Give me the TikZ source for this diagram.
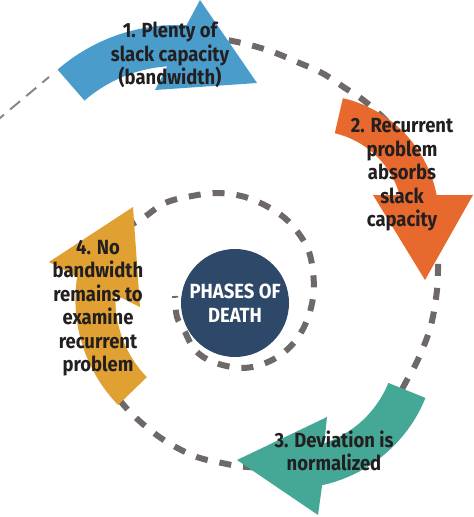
\documentclass[tikz,border=0pt]{standalone}
\usepackage{fontspec}
\setmainfont{Fira Sans}[FakeStretch=0.9]
\usetikzlibrary{calc}
\definecolor{cblue}{HTML}{4A9CCB}
\definecolor{corange}{HTML}{E8692D}
\definecolor{cteal}{HTML}{45A896}
\definecolor{cgold}{HTML}{E1A032}
\definecolor{cnavy}{HTML}{2D4868}
\definecolor{cgray}{HTML}{6E6868}
\definecolor{cthin}{HTML}{8A8586}
\definecolor{ctext}{HTML}{231F20}
\begin{document}
\begin{tikzpicture}[x=1pt,y=1pt,
  lbl/.style={align=center, font=\bfseries\fontsize{20.5}{23.5}\selectfont, text=ctext, inner sep=0pt},
  spiral/.style={draw=cgray, line width=6pt, dash pattern=on 12pt off 12pt},
  thinspiral/.style={draw=cthin, line width=2pt, dash pattern=on 13pt off 8pt}]
\useasboundingbox (0,0) rectangle (474,517);

% centres of the curved arrows
\coordinate (C1) at (177,310);
\coordinate (C2) at (315,298);
\coordinate (C3) at (291,173.4);
\coordinate (C4) at (227.4,217.6);

% thin dashed lead-in
\coordinate (thinA) at (-6,394);
\coordinate (thinB) at (49,440);
\draw[thinspiral] (thinA) -- (thinB);

% outer dashed spiral
\draw[spiral] plot[smooth, tension=0.6] coordinates {
 (205,480) (227,477) (250,472) (273,465) (297,455) (322,444) (345,429)
 (367,414) (395,387) (417,355) (430,317) (437,282) (438,257) (437,227)
 (431,192) (420,162) (407,137) (377,87) (333,59) (291,50) (247,50)
 (222,54) (197,60) (172,72) (150,87) (130,105) (118,119)};

% inner dashed spiral
\draw[spiral] plot[smooth, tension=0.6] coordinates {
 (125,289) (143,299) (165,314) (192,321) (218,324) (245,320) (270,309)
 (290,294) (307,270) (313,245) (313,219) (305,192) (290,170) (268,155)
 (242,149) (213,155) (195,167) (185,185) (177,200) (175,221)};

% 1. blue arrow
\fill[cblue] ($(C1)+(131:182pt)$) arc[start angle=131, end angle=87, radius=182pt]
  -- (200,517) -- (257,434) -- (155,427)
  -- ($(C1)+(94:141pt)$) arc[start angle=94, end angle=131, radius=141pt] -- cycle;

% 2. orange arrow
\fill[corange] ($(C2)+(77:124pt)$) arc[start angle=77, end angle=11.1, radius=124pt]
  -- (473,322) -- (425,237) -- (373,322)
  -- ($(C2)+(15.8:88pt)$) arc[start angle=15.8, end angle=77, radius=88pt] -- cycle;

% 3. teal arrow
\fill[cteal] ($(C3)+(-22:145pt)$) arc[start angle=-22, end angle=-77.6, radius=145pt]
  -- (318,2) -- (237,57) -- (327,100)
  -- ($(C3)+(-71.5:105pt)$) arc[start angle=-71.5, end angle=-22, radius=105pt] -- cycle;

% 4. gold arrow
\fill[cgold] ($(C4)+(224:152pt)$) arc[start angle=224, end angle=171.5, radius=152pt]
  -- (49,255) -- (133,310) -- (140,210)
  -- ($(C4)+(177.7:112pt)$) arc[start angle=177.7, end angle=224, radius=112pt] -- cycle;

% centre
\node[circle, fill=cnavy, minimum size=108pt, inner sep=0pt, align=center,
      font=\bfseries\fontsize{20.5}{23.5}\selectfont, text=white] (core) at (235,214)
  {PHASES OF\\DEATH};

% labels
\node[lbl] (t1) at (170,462) {1. Plenty of\\slack capacity\\(bandwidth)};
\node[lbl] (t2) at (402,342) {2. Recurrent\\problem\\absorbs\\slack\\capacity};
\node[lbl] (t3) at (334,66) {3. Deviation is\\normalized};
\node[lbl] (t4) at (98,209) {4. No\\bandwidth\\remains to\\examine\\recurrent\\problem};
\end{tikzpicture}
\end{document}
